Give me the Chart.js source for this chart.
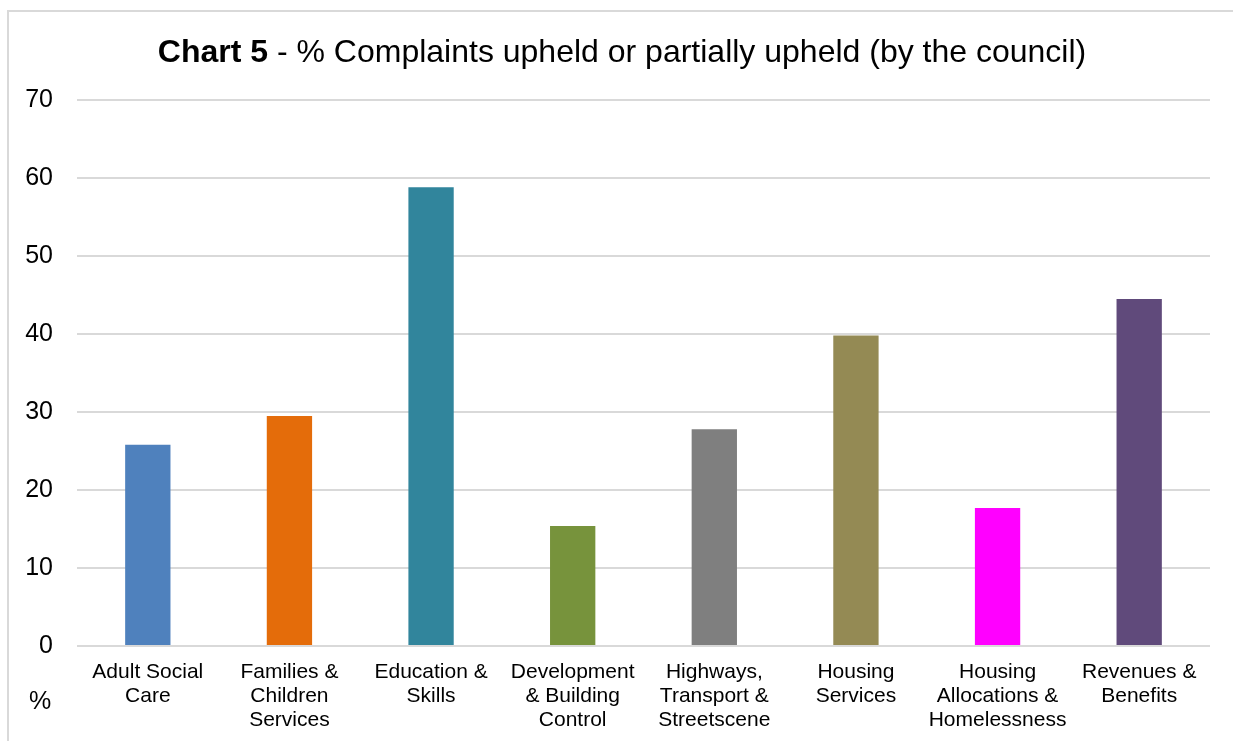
<!DOCTYPE html>
<html>
<head>
<meta charset="utf-8">
<script src="https://cdn.jsdelivr.net/npm/chart.js@4/dist/chart.umd.min.js"></script>
<style>
  html, body { margin: 0; padding: 0; background: #fff; }
  #wrap { width: 1233px; height: 741px; }
</style>
</head>
<body>
<div id="wrap"><canvas id="myChart" width="1233" height="741"></canvas></div>
<script>
// data
const categories = [
    ['Adult Social', 'Care'],
    ['Families &', 'Children', 'Services'],
    ['Education &', 'Skills'],
    ['Development', '& Building', 'Control'],
    ['Highways,', 'Transport &', 'Streetscene'],
    ['Housing', 'Services'],
    ['Housing', 'Allocations &', 'Homelessness'],
    ['Revenues &', 'Benefits']
];
const upheld_pct = [25.8, 29.5, 58.8, 15.4, 27.8, 39.8, 17.7, 44.5];
const bar_colours = ['#4F81BD', '#E46C0A', '#31859C', '#77933C', '#7F7F7F', '#948A54', '#FF00FF', '#604A7B'];
const y_ticks = [0, 10, 20, 30, 40, 50, 60, 70];

const FONT = "'Liberation Sans', Arial, sans-serif";

// frame, title and the "%" label
const extras = {
    id: 'extras',
    afterDraw(chart){
        const ctx = chart.ctx;
        ctx.save();
        ctx.strokeStyle = '#d9d9d9';
        ctx.lineWidth = 2;
        ctx.strokeRect(8, 11, 1300, 800);

        ctx.fillStyle = '#000';
        ctx.textBaseline = 'alphabetic';
        const boldPart = 'Chart 5';
        const restPart = ' - % Complaints upheld or partially upheld (by the council)';
        ctx.font = 'bold 32px ' + FONT;
        const w1 = ctx.measureText(boldPart).width;
        ctx.font = '32px ' + FONT;
        const w2 = ctx.measureText(restPart).width;
        let x = 622 - (w1 + w2) / 2;
        ctx.textAlign = 'left';
        ctx.font = 'bold 32px ' + FONT;
        ctx.fillText(boldPart, x, 62);
        ctx.font = '32px ' + FONT;
        ctx.fillText(restPart, x + w1, 62);

        ctx.font = '25px ' + FONT;
        ctx.textAlign = 'center';
        ctx.fillText('%', 40, 709);
        ctx.restore();
    }
};

const ctx = document.getElementById('myChart').getContext('2d');
const myChart = new Chart(ctx, {
    type: 'bar',
    data: {
        labels: categories,
        datasets: [{
            data: upheld_pct,
            backgroundColor: bar_colours,
            borderWidth: 0,
            categoryPercentage: 1,
            barPercentage: 0.32
        }]
    },
    options: {
        responsive: false,
        animation: false,
        layout: { padding: { top: 100, left: 10, right: 23, bottom: 0 } },
        plugins: {
            legend: { display: false },
            title: { display: false },
            tooltip: { enabled: false }
        },
        scales: {
            x: {
                grid: { display: false, drawTicks: false },
                border: { display: false },
                ticks: {
                    color: '#000',
                    font: { family: FONT, size: 21, lineHeight: 1.15 },
                    maxRotation: 0,
                    autoSkip: false,
                    padding: 14
                },
                afterFit(scale){ scale.height = 95; }
            },
            y: {
                min: 0,
                max: 70,
                afterBuildTicks(scale){ scale.ticks = y_ticks.map(v => ({ value: v })); },
                grid: { color: '#d9d9d9', lineWidth: 2, drawTicks: false },
                border: { display: false },
                ticks: {
                    color: '#000',
                    font: { family: FONT, size: 25 },
                    padding: 24
                },
                afterFit(scale){ scale.width = 67; }
            }
        }
    },
    plugins: [extras]
});
</script>
</body>
</html>
